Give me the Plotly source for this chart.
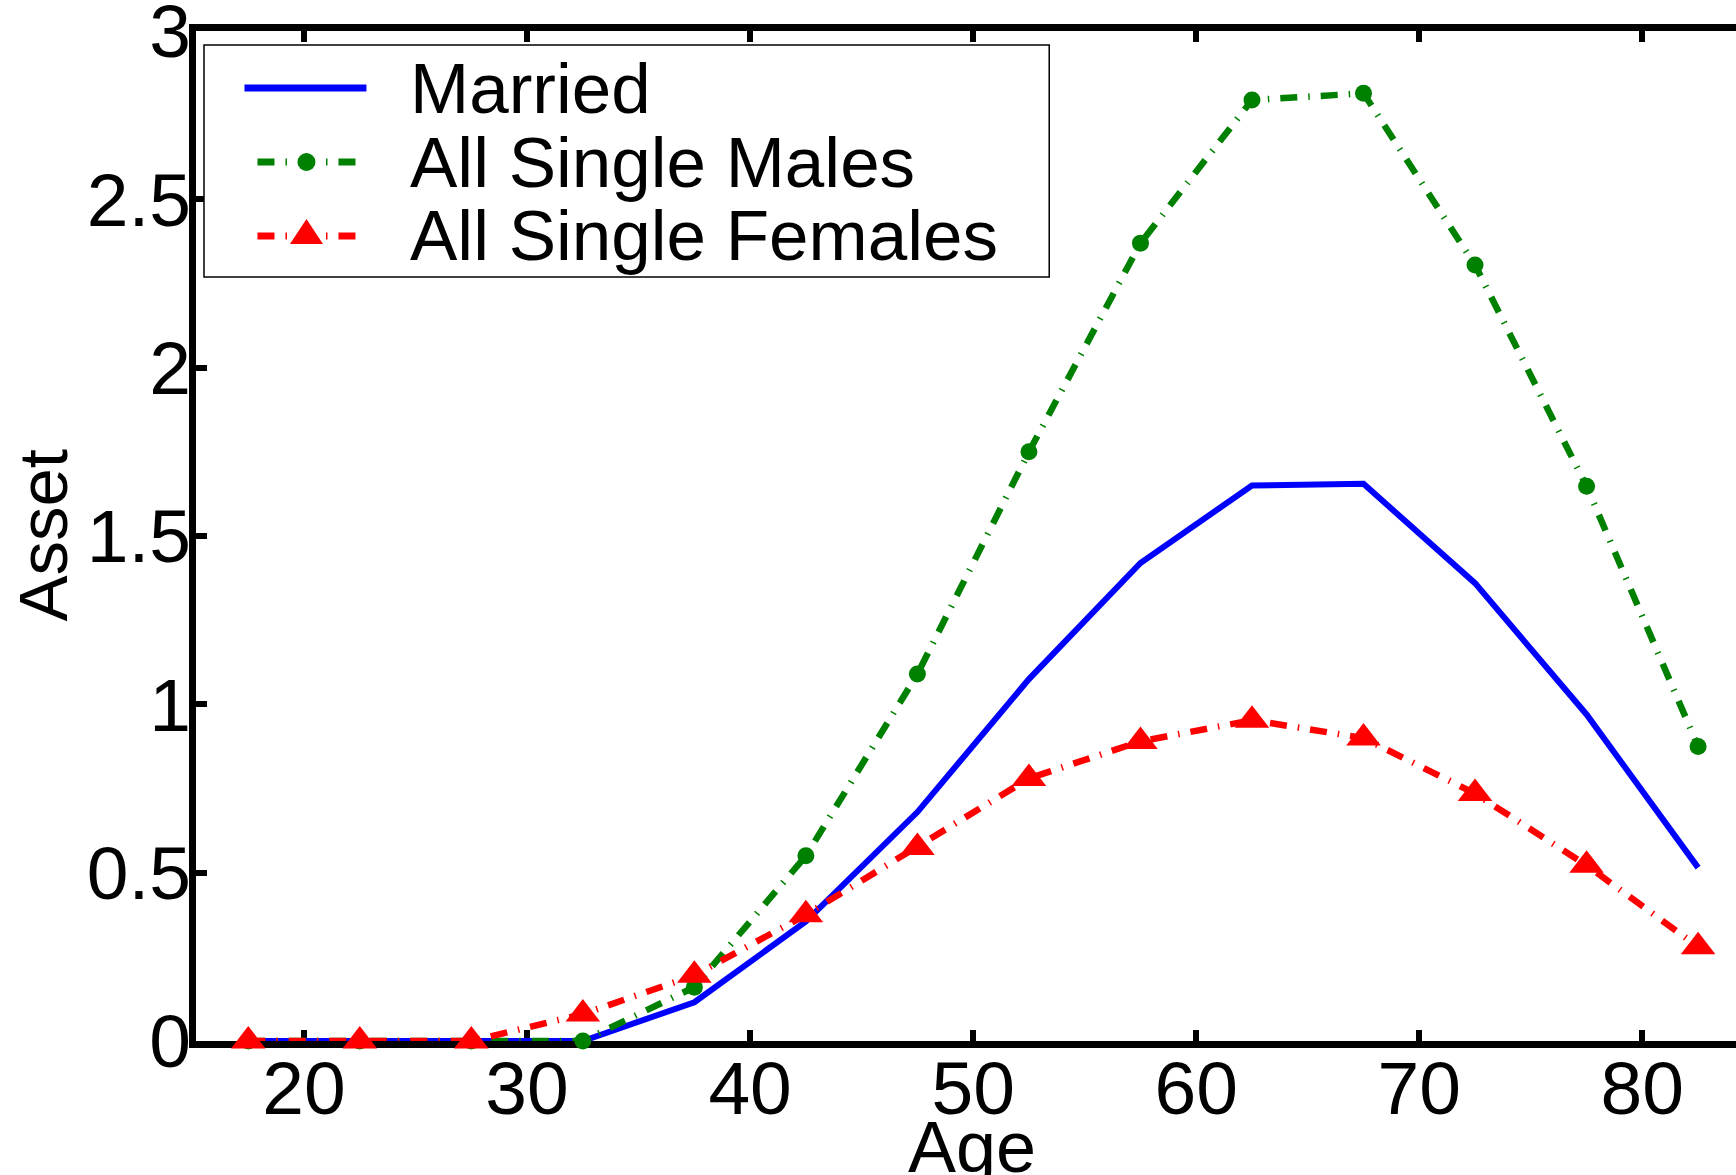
import plotly.graph_objects as go

age = [17.5, 22.5, 27.5, 32.5, 37.5, 42.5, 47.5, 52.5, 57.5, 62.5, 67.5, 72.5, 77.5, 82.5]
married = [0, 0, 0, 0, 0.115, 0.355, 0.68, 1.075, 1.42, 1.65, 1.655, 1.36, 0.97, 0.515]
single_males = [0, 0, 0, 0, 0.16, 0.55, 1.09, 1.75, 2.37, 2.795, 2.815, 2.305, 1.648, 0.875]
single_females = [0, 0, 0, 0.08, 0.195, 0.375, 0.575, 0.78, 0.89, 0.953, 0.90, 0.735, 0.522, 0.28]

series_names = ["Married", "All Single Males", "All Single Females"]
series_colors = ["#0000ff", "#008000", "#ff0000"]

x_ticks = [20, 30, 40, 50, 60, 70, 80]
y_ticks = [0, 0.5, 1, 1.5, 2, 2.5, 3]
y_ticktext = ["0", "0.5", "1", "1.5", "2", "2.5", "3"]

FONT = "Liberation Sans, Arial, Helvetica, sans-serif"
FS = 71
TICK_FS = 75
DASH = "17px,11px,1.5px,11px"

W, H = 1736, 1175
ML, MR, MT, MB = 195.5, 0, 31, 134
PW, PH = W - ML - MR, H - MT - MB


def px(xpix):
    return (xpix - ML) / PW


def py(ypix):
    return (H - MB - ypix) / PH


fig = go.Figure()
fig.add_trace(go.Scatter(
    x=age, y=married, name=series_names[0], mode="lines",
    line=dict(color=series_colors[0], width=6), cliponaxis=False,
))
fig.add_trace(go.Scatter(
    x=age, y=single_males, name=series_names[1], mode="lines+markers",
    line=dict(color=series_colors[1], width=6.5, dash=DASH),
    marker=dict(symbol="circle", size=17, color=series_colors[1]), cliponaxis=False,
))
fig.add_trace(go.Scatter(
    x=age, y=single_females, name=series_names[2], mode="lines+markers",
    line=dict(color=series_colors[2], width=6.5, dash=DASH),
    marker=dict(symbol="triangle-up", size=30, color=series_colors[2]), cliponaxis=False,
))

# ---- manual legend (box, samples, labels) ----
shapes = [dict(type="rect", xref="paper", yref="paper",
               x0=px(203.5), x1=px(1049), y0=py(277), y1=py(45),
               line=dict(color="black", width=1.5), fillcolor="white", layer="above")]
annotations = []
rows = [88, 162, 236]
for i, (name, col, ry) in enumerate(zip(series_names, series_colors, rows)):
    if i == 0:
        shapes.append(dict(type="line", xref="paper", yref="paper",
                           x0=px(244), x1=px(366), y0=py(ry), y1=py(ry),
                           line=dict(color=col, width=7), layer="above"))
    else:
        shapes.append(dict(type="line", xref="paper", yref="paper",
                           x0=px(257), x1=px(356), y0=py(ry), y1=py(ry),
                           line=dict(color=col, width=7, dash=DASH), layer="above"))
    if i == 1:
        shapes.append(dict(type="circle", xref="paper", yref="paper",
                           xsizemode="pixel", ysizemode="pixel",
                           xanchor=px(306), yanchor=py(ry),
                           x0=-9, x1=9, y0=-9, y1=9,
                           fillcolor=col, line=dict(width=0), layer="above"))
    if i == 2:
        shapes.append(dict(type="path", xref="paper", yref="paper",
                           xsizemode="pixel", ysizemode="pixel",
                           xanchor=px(306), yanchor=py(ry),
                           path="M -16.5,-8 L 16.5,-8 L 0,17 Z",
                           fillcolor=col, line=dict(width=0), layer="above"))
    annotations.append(dict(text=name, xref="paper", yref="paper",
                            x=px(408), y=py(ry), xanchor="left", yanchor="middle",
                            showarrow=False, font=dict(family=FONT, size=FS, color="black")))

# axis titles
annotations.append(dict(text="Age", xref="paper", yref="paper", x=px(972), y=py(1105),
                        xanchor="center", yanchor="top", showarrow=False,
                        font=dict(family=FONT, size=FS + 1, color="black")))
annotations.append(dict(text="Asset", xref="paper", yref="paper", x=px(42), y=py(535),
                        xanchor="center", yanchor="middle", textangle=-90, showarrow=False,
                        font=dict(family=FONT, size=FS - 2, color="black")))

fig.update_layout(
    width=W, height=H,
    margin=dict(l=ML, r=MR, t=MT, b=MB),
    paper_bgcolor="white", plot_bgcolor="white",
    font=dict(family=FONT, size=FS, color="black"),
    showlegend=False,
    shapes=shapes, annotations=annotations,
    xaxis=dict(
        range=[15.157, 84.2], tickvals=x_ticks, ticks="inside", ticklen=11, tickwidth=6,
        tickcolor="black", showline=True, linewidth=7, linecolor="black", mirror="ticks",
        showgrid=False, zeroline=False, automargin=False, layer="below traces",
        tickfont=dict(family=FONT, size=TICK_FS), ticklabelstandoff=-24,
        ticklabeloverflow="allow",
    ),
    yaxis=dict(
        range=[0, 3.0001], tickvals=y_ticks, ticktext=y_ticktext, ticks="inside", ticklen=11,
        tickwidth=6, tickcolor="black", showline=True, linewidth=7, linecolor="black",
        showgrid=False, zeroline=False, automargin=False, layer="below traces",
        tickfont=dict(family=FONT, size=TICK_FS), ticklabelstandoff=-17,
        ticklabeloverflow="allow",
    ),
)

fig.write_html("out.html")
